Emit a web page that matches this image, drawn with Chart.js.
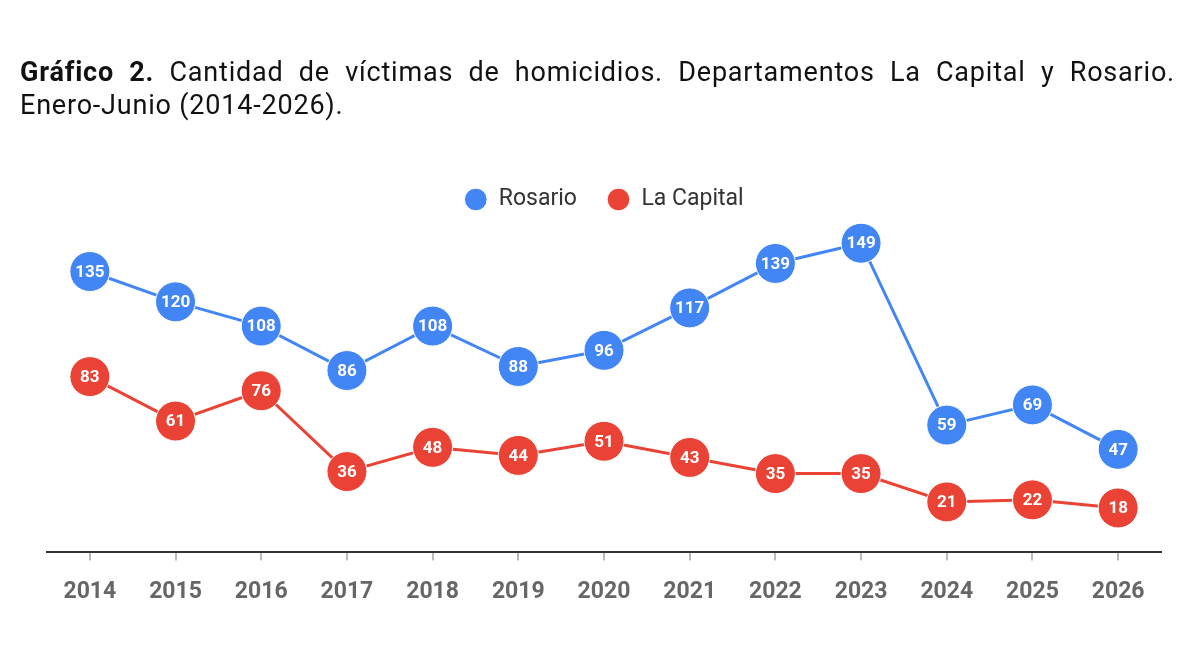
<!DOCTYPE html>
<html>
<head>
<meta charset="utf-8">
<script src="https://cdn.jsdelivr.net/npm/chart.js@4.4.1/dist/chart.umd.min.js"></script>
<style>
  html, body { margin: 0; padding: 0; background: #fff; }
  body { width: 1200px; height: 652px; position: relative; overflow: hidden; font-family: Roboto, "Noto Sans", sans-serif; }
  #title { position: absolute; left: 20px; top: 56px; width: 1155px; color: #111; font-size: 27px; line-height: 33px; letter-spacing: 0.8px; }
  #title .l1 { text-align: justify; text-align-last: justify; }
  #title b { font-weight: 700; }
  #wrap { position: absolute; left: 0; top: 0; width: 1200px; height: 652px; }
</style>
</head>
<body>
<div id="wrap"><canvas id="c" width="1200" height="652"></canvas></div>
<div id="title">
  <div class="l1"><b>Gráfico 2.</b> Cantidad de víctimas de homicidios. Departamentos La Capital y Rosario.</div>
  <div class="l2">Enero-Junio (2014-2026).</div>
</div>
<script>
const years = ["2014","2015","2016","2017","2018","2019","2020","2021","2022","2023","2024","2025","2026"];
const rosario = [135,120,108,86,108,88,96,117,139,149,59,69,47];
const laCapital = [83,61,76,36,48,44,51,43,35,35,21,22,18];
const seriesNames = ["Rosario","La Capital"];
const blue = "#4285F4";
const red = "#EA4335";

const pointLabels = {
  id: "pointLabels",
  afterDatasetsDraw(chart) {
    const ctx = chart.ctx;
    ctx.save();
    ctx.font = "bold 17px Roboto, sans-serif";
    ctx.fillStyle = "#fff";
    ctx.textAlign = "center";
    ctx.textBaseline = "middle";
    chart.data.datasets.forEach((ds, i) => {
      const meta = chart.getDatasetMeta(i);
      meta.data.forEach((pt, j) => {
        ctx.fillText(String(ds.data[j]), pt.x, pt.y + 1);
      });
    });
    ctx.restore();
  }
};

new Chart(document.getElementById("c"), {
  type: "line",
  data: {
    labels: years,
    datasets: [
      { label: seriesNames[0], data: rosario, borderColor: blue, backgroundColor: blue,
        pointBackgroundColor: blue, pointBorderColor: "#fff", pointBorderWidth: 1,
        pointRadius: 20, pointHoverRadius: 20, borderWidth: 3, tension: 0 },
      { label: seriesNames[1], data: laCapital, borderColor: red, backgroundColor: red,
        pointBackgroundColor: red, pointBorderColor: "#fff", pointBorderWidth: 1,
        pointRadius: 20, pointHoverRadius: 20, borderWidth: 3, tension: 0 }
    ]
  },
  options: {
    responsive: false,
    animation: false,
    events: [],
    layout: { padding: { top: 158, left: 47, right: 39, bottom: 28 } },
    plugins: {
      tooltip: { enabled: false },
      legend: {
        display: true,
        position: "top",
        align: "center",
        labels: {
          usePointStyle: true,
          pointStyle: "circle",
          boxWidth: 23,
          boxHeight: 16,
          padding: 30,
          color: "#333",
          font: { family: "Roboto, sans-serif", size: 23 }
        }
      }
    },
    scales: {
      x: {
        offset: true,
        border: { display: true, color: "#333", width: 2 },
        grid: { display: true, drawOnChartArea: false, drawTicks: true, tickLength: 8, color: "#bbb", lineWidth: 2 },
        ticks: { padding: 18, color: "#666", font: { family: "Roboto, sans-serif", size: 23, weight: "bold" } }
      },
      y: {
        display: false,
        min: -4,
        max: 160
      }
    }
  },
  plugins: [pointLabels]
});
</script>
</body>
</html>
